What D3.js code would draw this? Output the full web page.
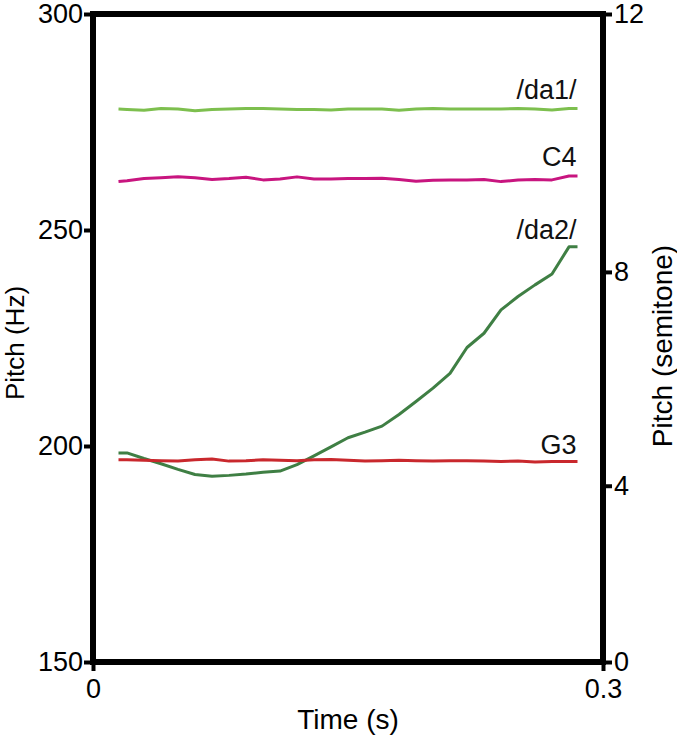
<!DOCTYPE html>
<html>
<head>
<meta charset="utf-8">
<script src="https://cdn.jsdelivr.net/npm/d3@7/dist/d3.min.js"></script>
<style>
  body { margin: 0; background: #fff; }
  svg { display: block; font-family: "Liberation Sans", Arial, sans-serif; }
</style>
</head>
<body>
<svg id="chart" width="677" height="740"></svg>
<script>
// time samples (s)
const times = [0.015, 0.02, 0.03, 0.04, 0.05, 0.06, 0.07, 0.08, 0.09, 0.10,
  0.11, 0.12, 0.13, 0.14, 0.15, 0.16, 0.17, 0.18, 0.19, 0.20,
  0.21, 0.22, 0.23, 0.24, 0.25, 0.26, 0.27, 0.28, 0.285]

// pitch tracks (Hz)
const da1 = [278.0, 277.9, 277.7, 278.1, 278.0, 277.6, 277.9, 278.0, 278.1, 278.1,
  278.0, 277.9, 277.9, 277.8, 278.0, 278.0, 278.0, 277.7, 278.0, 278.1,
  278.0, 278.0, 278.0, 278.0, 278.1, 278.0, 277.8, 278.1, 278.1]
const c4 = [261.2, 261.4, 261.9, 262.1, 262.3, 262.1, 261.7, 261.9, 262.2, 261.6,
  261.8, 262.3, 261.8, 261.8, 261.9, 261.9, 262.0, 261.7, 261.3, 261.5,
  261.6, 261.6, 261.7, 261.2, 261.6, 261.7, 261.6, 262.5, 262.5]
const da2 = [198.4, 198.4, 197.1, 195.9, 194.6, 193.4, 193.0, 193.2, 193.5, 193.9,
  194.2, 195.7, 197.7, 199.8, 201.9, 203.2, 204.6, 207.3, 210.3, 213.4,
  216.8, 222.8, 226.1, 231.5, 234.6, 237.3, 239.8, 246.1, 246.1]
const g3 = [196.8, 196.8, 196.7, 196.6, 196.5, 196.8, 197.0, 196.5, 196.6, 196.8,
  196.7, 196.6, 196.8, 196.9, 196.7, 196.5, 196.6, 196.7, 196.6, 196.5,
  196.6, 196.6, 196.5, 196.4, 196.5, 196.3, 196.4, 196.4, 196.4]

const seriesNames = ['/da1/', 'C4', '/da2/', 'G3']
const seriesValues = [da1, c4, da2, g3]
const seriesColors = ['#7dbf4e', '#c8157f', '#3f7f44', '#c9282d']

const hzTicks = [150, 200, 250, 300]
const semitoneTicks = [0, 4, 8, 12]
// Hz position of each semitone tick as drawn on the right axis
const semitoneTickHz = [150, 190.8, 240.3, 300]
const timeTicks = [0, 0.3]

const W = 677
const H = 740
const margin = { top: 14, right: 74, bottom: 78, left: 93 }
const iw = W - margin.left - margin.right
const ih = H - margin.top - margin.bottom

const svg = d3.select('#chart')
const g = svg.append('g').attr('transform', `translate(${margin.left},${margin.top})`)

const x = d3.scaleLinear().domain([0, 0.3]).range([0, iw])
const y = d3.scaleLinear().domain([150, 300]).range([ih, 0])
const y2 = d3.scaleLinear().domain(semitoneTicks).range(semitoneTickHz.map(y))

// lines
const line = d3.line()
  .x((d, i) => x(times[i]))
  .y(d => y(d))

seriesValues.forEach((vals, k) => {
  g.append('path')
    .datum(vals)
    .attr('fill', 'none')
    .attr('stroke', seriesColors[k])
    .attr('stroke-width', 3)
    .attr('stroke-linejoin', 'round')
    .attr('d', line)
})

// series labels, right aligned above each line end
const labelOffsets = [-10, -10, -8, -8]
seriesNames.forEach((name, k) => {
  const vals = seriesValues[k]
  g.append('text')
    .attr('x', x(times[times.length - 1]) - 1)
    .attr('y', y(vals[vals.length - 1]) + labelOffsets[k])
    .attr('text-anchor', 'end')
    .attr('font-size', 27)
    .attr('fill', '#111')
    .text(name)
})

// axes
function styleAxis (sel) {
  sel.select('.domain').remove()
  sel.selectAll('.tick line').attr('stroke', '#000').attr('stroke-width', 4)
  sel.selectAll('.tick text').attr('font-size', 27).attr('fill', '#000')
    .attr('font-family', '"Liberation Sans", Arial, sans-serif')
}

g.append('g')
  .call(d3.axisLeft(y).tickValues(hzTicks).tickSize(9).tickPadding(1))
  .call(styleAxis)

g.append('g')
  .attr('transform', `translate(${iw},0)`)
  .call(d3.axisRight(y2).tickValues(semitoneTicks).tickSize(9).tickPadding(2))
  .call(styleAxis)

g.append('g')
  .attr('transform', `translate(0,${ih})`)
  .call(d3.axisBottom(x).tickValues(timeTicks).tickSize(9).tickPadding(8)
    .tickFormat(d => d === 0 ? '0' : d3.format('.1f')(d)))
  .call(styleAxis)

// frame
g.append('rect')
  .attr('width', iw)
  .attr('height', ih)
  .attr('fill', 'none')
  .attr('stroke', '#000')
  .attr('stroke-width', 6)

// axis titles
svg.append('text')
  .attr('transform', `translate(24,${margin.top + ih / 2 + 5}) rotate(-90)`)
  .attr('text-anchor', 'middle')
  .attr('font-size', 26)
  .text('Pitch (Hz)')

svg.append('text')
  .attr('transform', `translate(672,${margin.top + ih / 2 + 8}) rotate(-90)`)
  .attr('text-anchor', 'middle')
  .attr('font-size', 28)
  .text('Pitch (semitone)')

svg.append('text')
  .attr('x', margin.left + iw / 2)
  .attr('y', 729)
  .attr('text-anchor', 'middle')
  .attr('font-size', 28)
  .text('Time (s)')
</script>
</body>
</html>
